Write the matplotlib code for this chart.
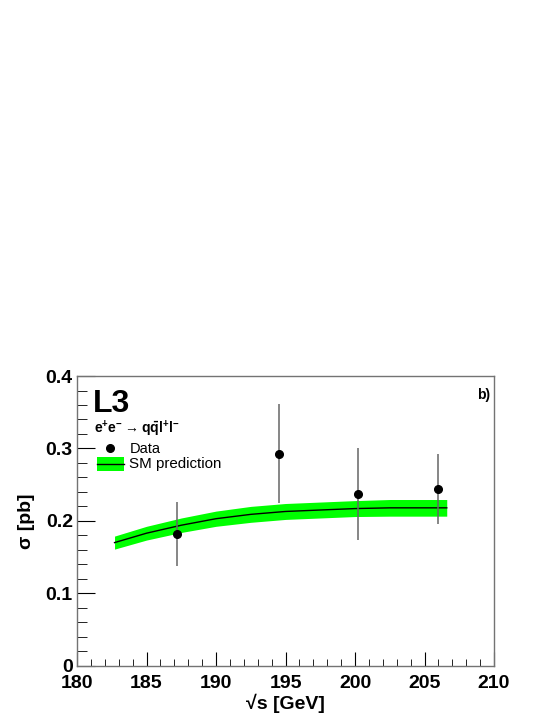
import numpy as np
import matplotlib
matplotlib.use("Agg")
import matplotlib.pyplot as plt
from matplotlib.ticker import MultipleLocator

plt.rcParams['font.family'] = ['Liberation Sans', 'DejaVu Sans']
plt.rcParams['font.weight'] = 'bold'
plt.rcParams['mathtext.fontset'] = 'custom'
plt.rcParams['mathtext.rm'] = 'Liberation Sans'
plt.rcParams['mathtext.bf'] = 'Liberation Sans:bold'

# data points
data_x = [187.2, 194.5, 200.2, 206.0]
data_y = [0.182, 0.293, 0.237, 0.244]
data_err = [0.044, 0.069, 0.063, 0.048]

# SM prediction
sm_x = [182.7, 185.0, 187.5, 190.0, 192.5, 195.0, 197.5, 200.0, 202.5, 205.0, 206.6]
sm_y = [0.170, 0.183, 0.194, 0.203, 0.209, 0.213, 0.215, 0.217, 0.218, 0.218, 0.218]
sm_err = [0.009, 0.0095, 0.010, 0.0105, 0.011, 0.011, 0.011, 0.011, 0.0115, 0.0115, 0.0115]

fig = plt.figure(figsize=(5.56, 7.19), dpi=100)
ax = fig.add_axes([0.1385, 0.0741, 0.75, 0.4029])

sm_x = np.array(sm_x)
sm_y = np.array(sm_y)
sm_err = np.array(sm_err)
ax.fill_between(sm_x, sm_y - sm_err, sm_y + sm_err, color='#00ff00', lw=0, zorder=1)
ax.plot(sm_x, sm_y, color='black', lw=1, zorder=2)

ax.errorbar(data_x, data_y, yerr=data_err, fmt='o', color='black', ms=5.5,
            ecolor='0.4', elinewidth=1.1, capsize=0, zorder=3)

ax.set_xlim(180, 210)
ax.set_ylim(0, 0.4)
ax.xaxis.set_major_locator(MultipleLocator(5))
ax.xaxis.set_minor_locator(MultipleLocator(1))
ax.yaxis.set_major_locator(MultipleLocator(0.1))
ax.yaxis.set_minor_locator(MultipleLocator(0.02))
ax.yaxis.set_major_formatter(plt.FuncFormatter(lambda v, p: '0' if v == 0 else '%.1f' % v))
ax.xaxis.set_major_formatter(plt.FuncFormatter(lambda v, p: '%d' % v))

ax.tick_params(which='both', direction='in', top=False, right=False, labelsize=14, color='black')
ax.tick_params(axis='x', which='major', length=10, pad=7)
ax.tick_params(axis='x', which='minor', length=5)
ax.tick_params(axis='y', which='major', length=13, pad=3)
ax.tick_params(axis='y', which='minor', length=7)
for lab in ax.get_xticklabels() + ax.get_yticklabels():
    lab.set_fontweight('bold')
for sp in ax.spines.values():
    sp.set_color('0.45')
    sp.set_linewidth(1)

ax.set_xlabel('√s [GeV]', fontsize=14, fontweight='bold', labelpad=1)
ax.set_ylabel('σ [pb]', fontsize=14, fontweight='bold', labelpad=8)

ax.text(0.037, 0.955, 'L3', transform=ax.transAxes, fontsize=23, fontweight='bold',
        va='top', ha='left')
ax.text(0.99, 0.96, 'b)', transform=ax.transAxes, fontsize=10, fontweight='bold',
        va='top', ha='right')
ax.text(0.04, 0.816, r'$\mathbf{e^{+}e^{-}}\rightarrow\mathbf{q\bar{q}l^{+}l^{-}}$',
        transform=ax.transAxes, fontsize=10, va='center', ha='left')

# legend
ax.plot([0.08], [0.75], 'o', color='black', ms=5.5, transform=ax.transAxes, clip_on=False)
ax.text(0.127, 0.748, 'Data', transform=ax.transAxes, fontsize=10.5, fontweight='normal',
        va='center', ha='left')
ax.add_patch(plt.Rectangle((0.047, 0.671), 0.066, 0.048, color='#00ff00',
                           transform=ax.transAxes, lw=0))
ax.plot([0.047, 0.113], [0.695, 0.695], color='black', lw=1, transform=ax.transAxes)
ax.text(0.124, 0.695, 'SM prediction', transform=ax.transAxes, fontsize=10.9,
        fontweight='normal', va='center', ha='left')

fig.savefig('out.png', dpi=100)
